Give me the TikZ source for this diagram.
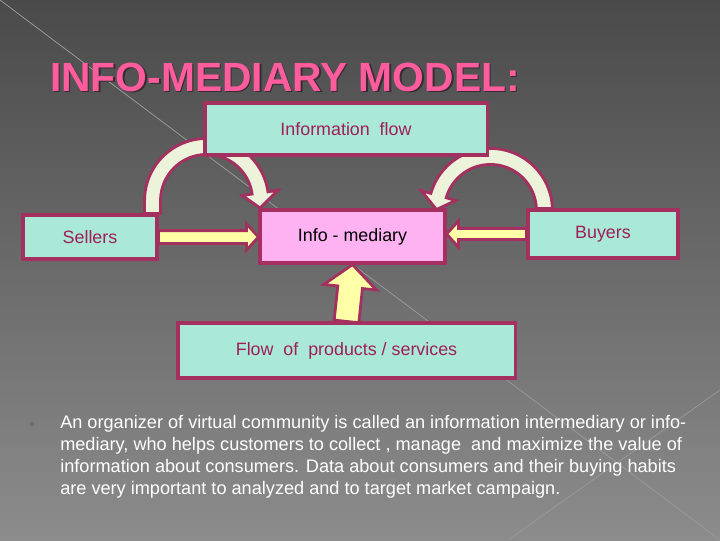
\documentclass[tikz,border=0pt]{standalone}
\usepackage{fontspec}
\setmainfont{Liberation Sans}
\usetikzlibrary{calc,backgrounds}
\definecolor{bgtop}{HTML}{4A4A4A}
\definecolor{bgmid}{HTML}{5E5E5E}
\definecolor{bgbot}{HTML}{8C8C8C}
\definecolor{streak}{HTML}{9A9A9A}
\definecolor{bordcol}{HTML}{A3305F}
\definecolor{labcol}{HTML}{A01E5A}
\definecolor{mintcol}{HTML}{AAE9D7}
\definecolor{pinkcol}{HTML}{FFB2F2}
\definecolor{yelcol}{HTML}{FFFFA8}
\definecolor{creamcol}{HTML}{EDF3DA}
\definecolor{titlecol}{HTML}{FF5C9E}
\definecolor{shadowcol}{HTML}{3A2A32}
\definecolor{dotcol}{HTML}{7E666E}
% straight block arrow: tail, tip, half shaft, half head, head length
\newcommand\fatarrow[5]{%
  \coordinate (fa) at ($(#2)!#5!(#1)$);
  \draw[blockarr] ($(#1)!#3!90:(#2)$) -- ($(fa)!#3!90:(#2)$) -- ($(fa)!#4!90:(#2)$)
    -- (#2) -- ($(fa)!#4!-90:(#2)$) -- ($(fa)!#3!-90:(#2)$) -- ($(#1)!#3!-90:(#2)$) -- cycle;}

\begin{document}
\begin{tikzpicture}[x=0.025cm, y=-0.025cm,
  line join=miter,
  box/.style={draw=bordcol, line width=2.2pt, fill=mintcol, text=labcol,
              font=\fontsize{12.7}{15}\selectfont, inner sep=0pt},
  blockarr/.style={draw=bordcol, line width=2pt, fill=yelcol},
  curvearr/.style={draw=bordcol, line width=2pt, fill=creamcol},
  headline/.style={font=\fontsize{29}{34}\selectfont\bfseries}]

\useasboundingbox (0,0) rectangle (720,540);

% ================================================================ title
\node[headline, text=shadowcol] (titleshadow) at (286.5,78.5) {INFO-MEDIARY MODEL:};
\node[headline, text=titlecol] (title) at (285,77) {INFO-MEDIARY MODEL:};

% ================================================================ the boxes
\node[box, minimum width=7.05cm, minimum height=1.3cm] (infoflow) at (346,129)
  {Information~~flow};
\node[box, minimum width=3.35cm, minimum height=1.1cm] (sellers) at (90,237) {Sellers};
\node[box, fill=pinkcol, text=black, minimum width=4.625cm, minimum height=1.325cm]
  (mediary) at (352.5,236.5) {Info - mediary};
\node[box, minimum width=3.75cm, minimum height=1.2cm] (buyers) at (603,234)
  {\raisebox{2pt}{Buyers}};
\node[box, minimum width=8.425cm, minimum height=1.375cm] (flowbox) at (346.5,350.5)
  {Flow~~of~~products / services};
\coordinate (sellin) at (mediary.west |- sellers.east);
\coordinate (buyin) at (mediary.east |- buyers.west);

% ================================================================ the text
\node[circle, fill=dotcol, inner sep=0pt, minimum size=0.12cm] (bullet) at (32,424) {};
\node[anchor=north west, inner sep=0pt, align=left, text=white,
      font=\fontsize{12.9}{15.6}\selectfont] (body) at (60,415)
  {An organizer of virtual community is called an information intermediary or info-\\
   mediary, who helps customers to collect , manage~~and maximize the value of\\
   information about consumers. Data about consumers and their buying habits\\
   are very important to analyzed and to target market campaign.};

\begin{scope}[on background layer]
  \shade[top color=bgtop, middle color=bgmid, bottom color=bgbot] (0,0) rectangle (720,540);
  \draw[streak, line width=0.5pt] (0,0) -- (720,540);
  \draw[streak, line width=0.5pt] (720,390) -- (508,540);

  % ============================================================== flows
  \fatarrow{sellers.east}{sellin}{0.16cm}{0.33cm}{0.3cm}
  \fatarrow{buyers.west}{buyin}{0.14cm}{0.33cm}{0.3cm}
  \fatarrow{flowbox.north}{mediary.south}{0.31cm}{0.66cm}{0.57cm}

  % ============================================================== info arcs
  \begin{scope}[shift={($(sellers.north east)+(48,-13)$)}]
    \draw[curvearr] (-62,13) -- plot[domain=180:352, samples=50] (\x:62)
      -- (352:72) -- (8:54) -- (352:36)
      -- plot[domain=352:180, samples=50] (\x:46) -- (-46,13) -- cycle;
  \end{scope}
  \begin{scope}[shift={($(buyers.north west)+(-36,2)$)}]
    \draw[curvearr] (62,-2) -- plot[domain=360:196, samples=50] (\x:62)
      -- (196:72) -- (181:54) -- (196:36)
      -- plot[domain=196:360, samples=50] (\x:46) -- (46,-2) -- cycle;
  \end{scope}
\end{scope}

\end{tikzpicture}
\end{document}
